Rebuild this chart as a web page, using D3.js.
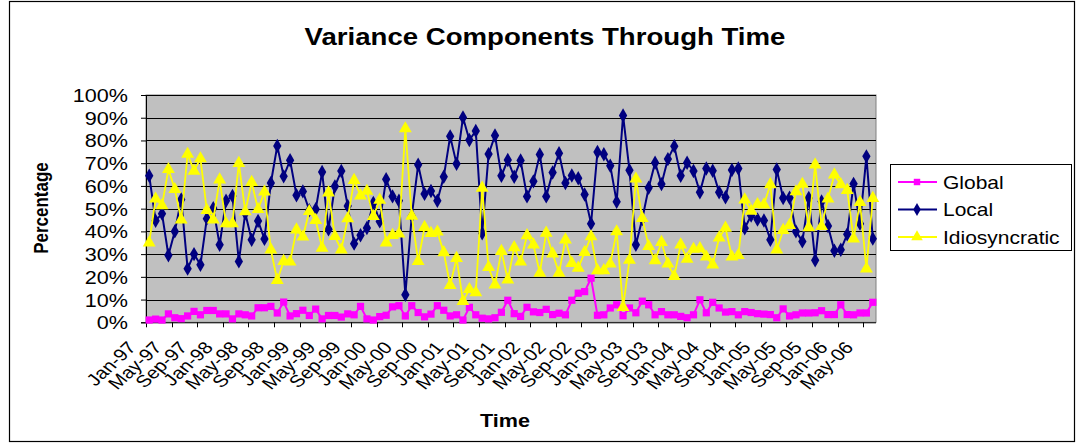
<!DOCTYPE html>
<html><head><meta charset="utf-8">
<script src="https://cdn.jsdelivr.net/npm/d3@7/dist/d3.min.js"></script>
<style>html,body{margin:0;padding:0;background:#fff;}svg{display:block;font-family:"Liberation Sans",Arial,sans-serif;}</style>
</head><body>
<svg id="c" width="1078" height="445"></svg>
<script>
const tickLabels = ["Jan-97","May-97","Sep-97","Jan-98","May-98","Sep-98","Jan-99","May-99","Sep-99",
  "Jan-00","May-00","Sep-00","Jan-01","May-01","Sep-01","Jan-02","May-02","Sep-02","Jan-03","May-03",
  "Sep-03","Jan-04","May-04","Sep-04","Jan-05","May-05","Sep-05","Jan-06","May-06"];
const yTicks = [0,10,20,30,40,50,60,70,80,90,100];
const seriesNames = ["Global","Local","Idiosyncratic"];
const globalVals = [1.0,1.4,1.0,3.7,2.0,1.6,2.8,4.8,3.3,5.2,
5.2,3.7,3.7,1.5,3.7,3.3,2.8,6.4,6.4,7.0,
4.1,8.9,2.8,3.8,5.3,3.0,5.8,1.5,3.0,3.0,
2.3,3.7,3.3,7.0,1.5,1.0,2.5,3.1,6.8,7.3,
2.8,7.3,4.3,2.4,3.6,7.3,5.3,2.8,3.3,1.0,
6.6,3.3,1.8,1.5,2.0,4.4,9.7,3.8,2.6,6.6,
4.6,4.3,5.7,3.4,4.0,3.3,9.7,12.8,13.5,19.4,
3.1,3.3,6.3,7.7,2.9,6.3,4.2,9.3,7.7,3.3,
4.7,3.3,3.3,2.6,2.0,3.3,9.9,4.2,8.8,6.3,
4.5,4.7,3.3,4.7,4.3,3.8,3.6,3.4,2.0,5.9,
2.8,3.3,4.1,4.1,4.2,5.1,3.4,3.4,7.7,3.4,
3.3,4.1,4.1,8.8];
const localVals = [64.5,44.7,47.8,29.5,40.0,54.0,23.6,30.0,25.3,45.6,
50.2,34.1,53.5,55.6,26.8,48.0,36.3,44.6,36.7,61.3,
77.6,64.2,71.3,55.9,57.6,49.3,49.7,66.1,40.9,59.8,
66.6,51.2,34.6,38.3,41.5,52.5,44.4,62.9,55.4,53.5,
12.1,46.8,69.3,56.5,57.8,53.5,64.0,81.8,69.7,90.1,
80.2,84.2,39.2,74.0,82.2,64.5,71.4,64.0,71.2,55.4,
62.0,73.8,55.4,65.9,74.4,61.3,64.6,63.4,56.2,43.4,
74.9,73.9,68.9,53.0,91.0,66.9,34.1,45.4,59.2,70.2,
60.8,71.8,77.5,64.5,70.2,66.6,57.2,67.7,66.7,57.2,
55.0,67.0,67.7,41.4,47.0,45.2,44.8,36.3,67.2,54.7,
54.8,40.0,35.6,54.7,27.3,53.2,42.4,31.5,31.9,38.7,
60.9,43.4,73.0,36.8];
const idioVals = [35.0,54.3,51.4,67.3,58.5,45.1,74.0,66.6,72.0,49.3,
45.1,62.7,43.4,43.4,70.0,48.7,61.6,49.7,57.4,31.9,
18.5,26.9,26.6,40.7,37.6,48.8,44.9,32.7,57.0,37.8,
31.9,45.6,62.5,55.7,57.7,46.6,53.8,35.0,38.3,38.9,
85.2,46.8,26.9,41.8,39.2,39.8,30.7,16.3,28.2,9.3,
14.5,13.1,59.1,24.2,16.5,31.3,18.7,32.9,26.6,38.2,
34.1,21.7,39.3,30.2,21.7,36.3,26.0,23.9,30.8,37.7,
22.8,22.8,25.7,39.9,6.6,27.4,63.1,45.8,33.4,27.2,
35.2,25.7,20.3,34.1,27.8,32.2,32.5,28.8,25.3,37.2,
41.5,28.8,29.5,53.9,49.0,51.9,51.7,60.6,31.9,40.5,
42.7,57.5,60.8,41.7,69.3,42.2,54.3,64.9,60.6,58.1,
36.8,52.8,23.6,54.6];

const months = d3.timeMonth.range(new Date(1997,0,1), new Date(2006,6,1));
const fmt = d3.timeFormat("%b-%y");
const cats = months.map(fmt);

const svg = d3.select("#c");
const SX = 1.2; // horizontal text stretch
const L = 146, R = 876, T = 95, B = 322.3;

svg.append("rect").attr("x",9.5).attr("y",1.5).attr("width",1065).attr("height",440)
  .attr("fill","#fff").attr("stroke","#000").attr("stroke-width",1.2);

const x = d3.scaleBand().domain(cats).range([L,R]).paddingInner(0).paddingOuter(0);
const y = d3.scaleLinear().domain([0,100]).range([B,T]);
const cx = d => x(d) + x.bandwidth()/2;

svg.append("rect").attr("x",L).attr("y",T).attr("width",R-L).attr("height",B-T)
  .attr("fill","#C0C0C0").attr("stroke","#808080").attr("stroke-width",1);

// gridlines
svg.append("g").selectAll("line").data(yTicks.filter(v=>v>0)).join("line")
  .attr("x1",L).attr("x2",R).attr("y1",d=>Math.round(y(d))+0.5).attr("y2",d=>Math.round(y(d))+0.5)
  .attr("stroke","#000").attr("stroke-width",1);

// y axis
const yAxis = d3.axisLeft(y).tickValues(yTicks).tickSize(5).tickFormat(d=>d+"%");
const gy = svg.append("g").attr("transform",`translate(${L},0)`).call(yAxis);
gy.select(".domain").attr("stroke","#000");
gy.selectAll(".tick line").attr("stroke","#000");
gy.selectAll(".tick text").attr("x",0).attr("dy",null).attr("dominant-baseline",null)
  .attr("font-size",18).attr("fill","#000").attr("text-anchor","end")
  .attr("transform",`translate(-18,6.5) scale(${SX},1)`);

// x axis
const tickIdx = tickLabels.map((t,i)=>i*4);
const gx = svg.append("g").attr("transform",`translate(0,${B})`);
gx.append("line").attr("x1",L).attr("x2",R).attr("y1",0.5).attr("y2",0.5).attr("stroke","#000");
gx.selectAll("line.tk").data(d3.range(0, cats.length+1, 4)).join("line").attr("class","tk")
  .attr("x1",i=>Math.round(L + i*x.bandwidth())+0.5).attr("x2",i=>Math.round(L + i*x.bandwidth())+0.5)
  .attr("y1",0).attr("y2",5).attr("stroke","#000");
gx.selectAll("text").data(tickLabels).join("text")
  .attr("transform",(t,i)=>`translate(${cx(cats[tickIdx[i]])-12},${26}) scale(${SX},1) rotate(-48)`)
  .attr("text-anchor","end").attr("font-size",17).attr("fill","#000").text(t=>t);

// titles
svg.append("text").attr("transform",`translate(545,45) scale(${SX},1)`).attr("text-anchor","middle")
  .attr("font-size",23).attr("font-weight","bold").text("Variance Components Through Time");
svg.append("text").attr("transform",`translate(505,427) scale(${SX},1)`).attr("text-anchor","middle")
  .attr("font-size",18).attr("font-weight","bold").text("Time");
svg.append("text").attr("transform",`translate(48,208) rotate(-90) scale(1,${SX})`).attr("text-anchor","middle")
  .attr("font-size",17).attr("font-weight","bold").text("Percentage");

const series = [
  {name:seriesNames[0], vals:globalVals, color:"#FF00FF", sym:d3.symbolSquare, size:52, w:2},
  {name:seriesNames[1], vals:localVals, color:"#000080", sym:d3.symbolDiamond, size:60, w:2},
  {name:seriesNames[2], vals:idioVals, color:"#FFFF00", sym:d3.symbolTriangle, size:72, w:1.8}
];
const line = d3.line().x((v,i)=>cx(cats[i])).y(v=>y(v));
series.forEach(s=>{
  const g = svg.append("g");
  g.append("path").attr("d",line(s.vals)).attr("fill","none").attr("stroke",s.color).attr("stroke-width",s.w);
  g.selectAll("path.m").data(s.vals).join("path").attr("class","m")
    .attr("d",d3.symbol(s.sym, s.size))
    .attr("transform",(v,i)=>`translate(${cx(cats[i])},${y(v)})`).attr("fill",s.color);
});

// legend
const lg = svg.append("g");
lg.append("rect").attr("x",890.5).attr("y",164.5).attr("width",181).attr("height",86)
  .attr("fill","#fff").attr("stroke","#000");
series.forEach((s,k)=>{
  const yy = 182 + k*27.5;
  lg.append("line").attr("x1",898).attr("x2",937).attr("y1",yy).attr("y2",yy).attr("stroke",s.color).attr("stroke-width",2);
  lg.append("path").attr("d",d3.symbol(s.sym, s.size*0.8)).attr("transform",`translate(917,${yy})`).attr("fill",s.color);
  lg.append("text").attr("transform",`translate(943,${yy+6.5}) scale(${SX},1)`).attr("font-size",17.5).text(s.name);
});
</script>
</body></html>
